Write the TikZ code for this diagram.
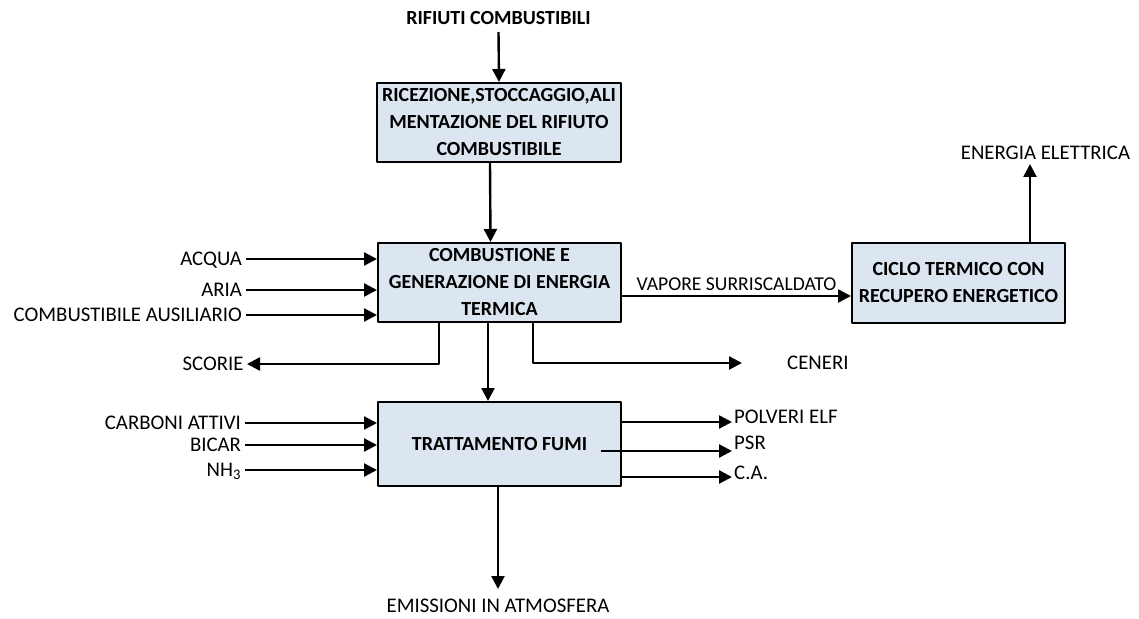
\documentclass[tikz,border=0pt]{standalone}
\usepackage{fontspec}
\setmainfont{Carlito}
\usetikzlibrary{arrows.meta}
\definecolor{boxfill}{RGB}{220,230,241}
\begin{document}
\begin{tikzpicture}[x=1bp,y=-1bp,>={Triangle[length=13bp,width=13bp]},line join=bevel,
  blockbox/.style={draw=black,line width=2bp,fill=boxfill,align=center,inner sep=0bp,
    font=\fontsize{20bp}{27bp}\selectfont\bfseries},
  flowlabel/.style={inner sep=2bp,text height=13bp,text depth=0bp,
    font=\fontsize{20.8bp}{24bp}\selectfont},
  flow/.style={->,line width=2.4bp}]
\useasboundingbox (0,0) rectangle (1139,619);
%%
\node (node_rifiuti) at (498.5,18) [flowlabel,outer sep=5.5bp,font=\fontsize{20bp}{24bp}\selectfont\bfseries] {RIFIUTI COMBUSTIBILI};
\node (node_ricez) at (499,122.5) [blockbox,minimum width=244bp,minimum height=79bp] {RICEZIONE,STOCCAGGIO,ALI\\MENTAZIONE DEL RIFIUTO\\COMBUSTIBILE};
\node (node_comb) at (499.5,282.5) [blockbox,minimum width=243bp,minimum height=79bp] {COMBUSTIONE E\\GENERAZIONE DI ENERGIA\\TERMICA};
\node (node_ciclo) at (958.5,283) [blockbox,minimum width=213bp,minimum height=80bp] {CICLO TERMICO CON\\RECUPERO ENERGETICO};
\node (node_fumi) at (499.5,444) [blockbox,minimum width=243bp,minimum height=84bp] {TRATTAMENTO FUMI};
%
\node (node_acqua) at (246,259) [flowlabel,anchor=east,outer sep=2bp] {ACQUA};
\node (node_aria) at (246,290) [flowlabel,anchor=east,outer sep=2bp] {ARIA};
\node (node_ausil) at (246,315) [flowlabel,anchor=east,outer sep=2bp] {COMBUSTIBILE AUSILIARIO};
\node (node_scorie) at (247,364) [flowlabel,anchor=east,outer sep=1.5bp] {SCORIE};
\node (node_ceneri) at (785,363) [flowlabel,anchor=west] {CENERI};
\coordinate (ceneri_tip) at (742,363);
\node (node_energia) at (1045.5,153) [flowlabel] {ENERGIA ELETTRICA};
\coordinate (energia_tip) at (1030,164);
\node (node_carboni) at (245,423) [flowlabel,anchor=east,outer sep=2bp] {CARBONI ATTIVI};
\node (node_bicar) at (245,445) [flowlabel,anchor=east,outer sep=2bp] {BICAR};
\node (node_nh3) at (245,470) [flowlabel,anchor=east,outer sep=2bp] {NH\textsubscript{3}};
\node (node_polveri) at (733,417) [flowlabel,anchor=west,inner sep=1bp] {POLVERI ELF};
\coordinate (polveri_tip) at (732,422);
\node (node_psr) at (733,443) [flowlabel,anchor=west,inner sep=1bp] {PSR};
\coordinate (psr_start) at (601,451);
\coordinate (psr_tip) at (732,451);
\node (node_ca) at (733,473) [flowlabel,anchor=west,inner sep=1bp] {C.A.};
\coordinate (ca_tip) at (732,477);
\node (node_emissioni) at (498,606) [flowlabel,outer sep=8.5bp] {EMISSIONI IN ATMOSFERA};
%
\draw [flow] (node_rifiuti.south) -- (node_ricez.north);
\draw [flow] ([xshift=-9bp]node_ricez.south) -- ([xshift=-9bp]node_comb.north);
\draw [flow] (node_acqua.east) -- (node_acqua.east -| node_comb.west);
\draw [flow] (node_aria.east) -- (node_aria.east -| node_comb.west);
\draw [flow] (node_ausil.east) -- (node_ausil.east -| node_comb.west);
\draw [flow] ([xshift=-60.5bp]node_comb.south) |- (node_scorie.east);
\draw [flow] ([xshift=33.5bp]node_comb.south) |- (ceneri_tip);
\draw [flow] ([xshift=-11.5bp]node_comb.south) -- ([xshift=-11.5bp]node_fumi.north);
\draw [flow] ([yshift=-13.5bp]node_comb.east) -- ([yshift=-13bp]node_ciclo.west)
  node [midway,above,flowlabel,inner sep=4bp,font=\fontsize{19.6bp}{24bp}\selectfont] (node_vapore) {VAPORE SURRISCALDATO};
\draw [flow] (node_ciclo.north -| energia_tip) -- (energia_tip);
\draw [flow] (node_carboni.east) -- (node_carboni.east -| node_fumi.west);
\draw [flow] (node_bicar.east) -- (node_bicar.east -| node_fumi.west);
\draw [flow] (node_nh3.east) -- (node_nh3.east -| node_fumi.west);
\draw [flow] (polveri_tip -| node_fumi.east) -- (polveri_tip);
\draw [flow] (psr_start) -- (psr_tip);
\draw [flow] (ca_tip -| node_fumi.east) -- (ca_tip);
\draw [flow] (node_emissioni.north |- node_fumi.south) -- (node_emissioni.north);
%
\end{tikzpicture}
\end{document}
